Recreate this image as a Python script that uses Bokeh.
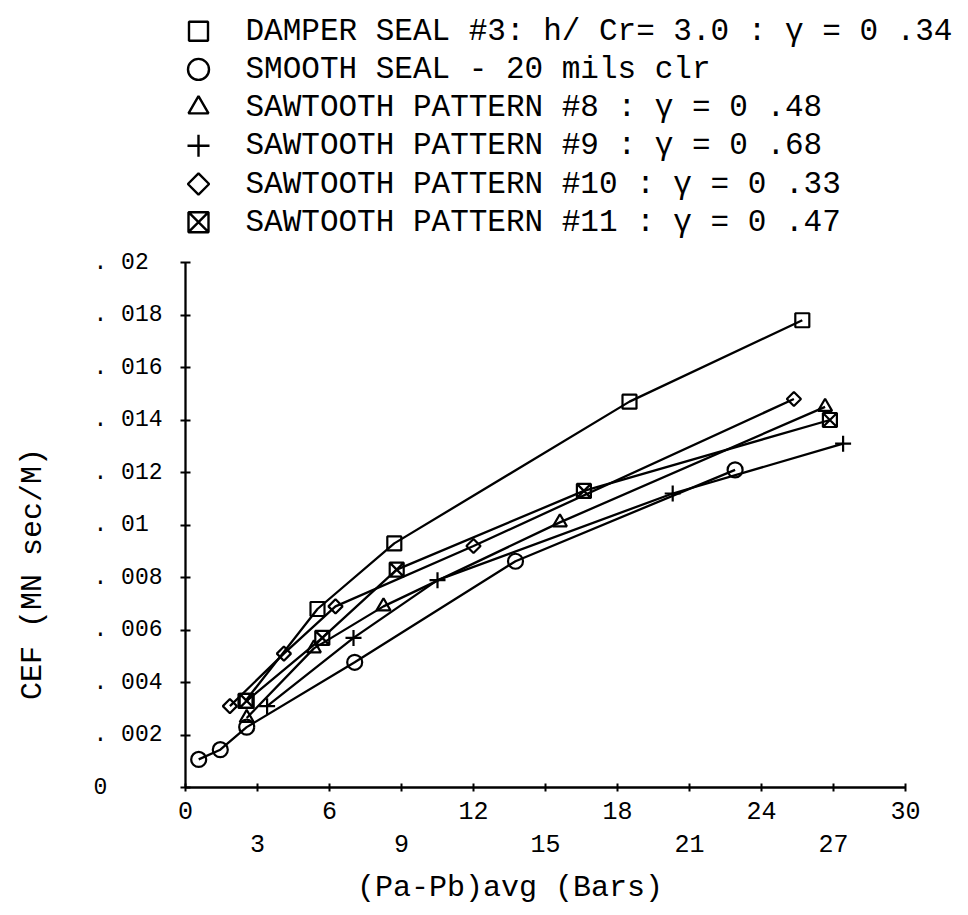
import math
from bokeh.plotting import figure
from bokeh.models import Range1d, FixedTicker, LinearAxis, ColumnDataSource
from bokeh.core.properties import value
from bokeh.embed import file_html
from bokeh.resources import INLINE

# ---------------- data ----------------
damper_x = [2.5, 5.5, 8.7, 18.5, 25.7]
damper_y = [0.0033, 0.0068, 0.0093, 0.0147, 0.0178]

smooth_x = [0.55, 1.45, 2.55, 7.05, 13.75, 22.9]
smooth_y = [0.00107, 0.00144, 0.0023, 0.00477, 0.00862, 0.0121]

saw8_x = [2.55, 5.35, 8.25, 15.6, 26.65]
saw8_y = [0.00265, 0.0053, 0.0069, 0.0101, 0.0145]

saw9_x = [3.4, 7.0, 10.5, 20.3, 27.4]
saw9_y = [0.0031, 0.0057, 0.0079, 0.0112, 0.0131]

saw10_x = [1.85, 4.1, 6.25, 12.0, 25.35]
saw10_y = [0.0031, 0.0051, 0.0069, 0.0092, 0.0148]

saw11_x = [2.55, 5.7, 8.8, 16.6, 26.85]
saw11_y = [0.0033, 0.0057, 0.0083, 0.0113, 0.0140]

series_names = [
    "DAMPER SEAL #3: h/ Cr= 3.0 : \u03b3 = 0 .34",
    "SMOOTH SEAL - 20 mils clr",
    "SAWTOOTH PATTERN #8 : \u03b3 = 0 .48",
    "SAWTOOTH PATTERN #9 : \u03b3 = 0 .68",
    "SAWTOOTH PATTERN #10 : \u03b3 = 0 .33",
    "SAWTOOTH PATTERN #11 : \u03b3 = 0 .47",
]

x_ticks = [0, 3, 6, 9, 12, 15, 18, 21, 24, 27, 30]
x_ticks_row1 = [0, 6, 12, 18, 24, 30]
x_ticks_row2 = [3, 9, 15, 21, 27]
y_ticks = [0.0, 0.002, 0.004, 0.006, 0.008, 0.01, 0.012, 0.014, 0.016, 0.018, 0.02]
y_tick_labels = ["0", ". 002", ". 004", ". 006", ". 008", ". 01", ". 012", ". 014", ". 016", ". 018", ". 02"]

x_title = "(Pa-Pb)avg (Bars)"
y_title = "CEF (MN sec/M)"

# ---------------- styles / layout ----------------
FONT = "Liberation Mono"
NB = "\u00a0"
markers = ["square", "circle", "triangle", "cross", "square", "square_x"]
angles = [0, 0, 0, 0, math.pi / 4, 0]
plot_sizes = [14, 15, 14, 16, 10, 14]
legend_sizes = [19, 21, 20, 22, 15, 20]

series_x = [damper_x, smooth_x, saw8_x, saw9_x, saw10_x, saw11_x]
series_y = [damper_y, smooth_y, saw8_y, saw9_y, saw10_y, saw11_y]

W, H = 960, 912
LEFT, BOTTOM = 185, 125
FRAME_W, FRAME_H = W - LEFT, H - BOTTOM          # 775 x 787 px
X_END = 30 * FRAME_W / 720.0                      # 24 px per unit on x
Y_END = 0.02 * FRAME_H / 525.0                    # 525 px for 0 .. .02

p = figure(width=W, height=H, x_range=Range1d(0, X_END), y_range=Range1d(0, Y_END),
           toolbar_location=None, output_backend="svg",
           min_border_left=LEFT, min_border_right=0, min_border_top=0, min_border_bottom=BOTTOM)
p.grid.visible = False
p.outline_line_color = None

# pixel-like ranges for the key block at the top
p.extra_x_ranges = {"kx": Range1d(LEFT, W)}
p.extra_y_ranges = {"ky": Range1d(FRAME_H, 0)}

for i in range(len(series_x)):
    src = ColumnDataSource(dict(x=series_x[i], y=series_y[i]))
    p.line("x", "y", source=src, line_color="black", line_width=2.3)
    p.scatter("x", "y", source=src, marker=markers[i], size=plot_sizes[i], angle=angles[i],
              line_color="black", line_width=2.2, fill_color=None)

# key (legend) block
row_y = [30.7 + 38.2 * i for i in range(len(series_names))]
for i in range(len(series_names)):
    p.scatter(x=[198], y=[row_y[i]], marker=markers[i], size=legend_sizes[i], angle=angles[i],
              line_color="black", line_width=2.4, fill_color=None,
              x_range_name="kx", y_range_name="ky")
p.text(x=[245] * len(series_names), y=row_y, text=series_names,
       text_font=value(FONT), text_font_size="31px", text_baseline="alphabetic",
       text_align="left", text_color="black", x_range_name="kx", y_range_name="ky")

# x axis, first row of labels
xa = p.xaxis[0]
xa.bounds = (0, 30)
xa.ticker = FixedTicker(ticks=x_ticks)
xa.major_label_overrides = {t: (str(t) if t in x_ticks_row1 else "") for t in x_ticks}
xa.axis_line_width = 2.3
xa.major_tick_line_width = 2
xa.major_tick_in = 4
xa.major_tick_out = 4
xa.minor_tick_line_color = None
xa.major_label_text_font = FONT
xa.major_label_text_font_size = "25px"
xa.major_label_text_color = "black"
xa.major_label_standoff = 10

# x axis, second row of labels + title
xa2 = LinearAxis(ticker=FixedTicker(ticks=x_ticks_row2))
xa2.axis_line_color = None
xa2.major_tick_line_color = None
xa2.major_tick_out = 0
xa2.major_tick_in = 0
xa2.minor_tick_line_color = None
xa2.major_label_text_font = FONT
xa2.major_label_text_font_size = "25px"
xa2.major_label_text_color = "black"
xa2.major_label_standoff = 13
xa2.axis_label = x_title + NB * 7
xa2.axis_label_text_font = FONT
xa2.axis_label_text_font_size = "30px"
xa2.axis_label_text_font_style = "normal"
xa2.axis_label_text_color = "black"
xa2.axis_label_standoff = 16
p.add_layout(xa2, "below")

# y axis
ya = p.yaxis[0]
ya.bounds = (0, 0.02)
ya.ticker = FixedTicker(ticks=y_ticks)
ya.major_label_overrides = {t: lab.ljust(5, NB) for t, lab in zip(y_ticks, y_tick_labels)}
ya.axis_line_width = 2.3
ya.major_tick_line_width = 2
ya.major_tick_in = 5
ya.major_tick_out = 5
ya.minor_tick_line_color = None
ya.major_label_text_font = FONT
ya.major_label_text_font_size = "23px"
ya.major_label_text_color = "black"
ya.major_label_standoff = 18
ya.axis_label = y_title + NB * 20
ya.axis_label_text_font = FONT
ya.axis_label_text_font_size = "30px"
ya.axis_label_text_font_style = "normal"
ya.axis_label_text_color = "black"
ya.axis_label_standoff = 40

open("out.html", "w").write(file_html(p, INLINE))
